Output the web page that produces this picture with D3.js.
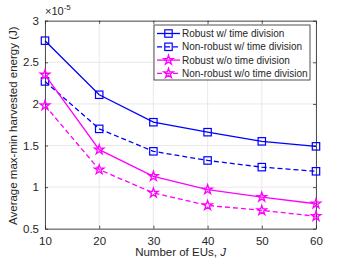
<!DOCTYPE html>
<html>
<head>
<meta charset="utf-8">
<script src="https://cdn.jsdelivr.net/npm/d3@7"></script>
<style>
  body { margin: 0; background: #fff; }
  text { font-family: "Liberation Sans", Arial, sans-serif; }
</style>
</head>
<body>
<script>
// data (values in units of 1e-5 J)
const numEUs = [10, 20, 30, 40, 50, 60];
const robustTD = [2.76, 2.11, 1.78, 1.66, 1.55, 1.49];
const nonRobustTD = [2.27, 1.70, 1.43, 1.32, 1.24, 1.19];
const robustNoTD = [2.35, 1.45, 1.13, 0.97, 0.88, 0.80];
const nonRobustNoTD = [1.98, 1.21, 0.93, 0.78, 0.72, 0.65];
const xTicks = [10, 20, 30, 40, 50, 60];
const yTicks = [0.5, 1, 1.5, 2, 2.5, 3];
const seriesNames = [
  "Robust w/ time division",
  "Non-robust w/ time division",
  "Robust w/o time division",
  "Non-robust w/o time division"
];

const W = 348, H = 263;
const plotL = 45, plotR = 316, plotT = 20.7, plotB = 228.7;
const axisColor = "#262626";

const series = [
  { name: seriesNames[0], values: robustTD, color: "#0000ff", dash: null, marker: "square" },
  { name: seriesNames[1], values: nonRobustTD, color: "#0000ff", dash: "5,3", marker: "square" },
  { name: seriesNames[2], values: robustNoTD, color: "#ff00ff", dash: null, marker: "star" },
  { name: seriesNames[3], values: nonRobustNoTD, color: "#ff00ff", dash: "5,3", marker: "star" }
];

const svg = d3.select("body").append("svg")
  .attr("width", W).attr("height", H);

const x = d3.scaleLinear().domain([10, 60]).range([plotL, plotR]);
const y = d3.scaleLinear().domain([0.5, 3]).range([plotB, plotT]);

// grid
svg.append("g").selectAll("line").data(xTicks).join("line")
  .attr("x1", d => x(d)).attr("x2", d => x(d))
  .attr("y1", plotT).attr("y2", plotB)
  .attr("stroke", "#e3e3e3").attr("stroke-width", 0.8);
svg.append("g").selectAll("line").data(yTicks).join("line")
  .attr("x1", plotL).attr("x2", plotR)
  .attr("y1", d => y(d)).attr("y2", d => y(d))
  .attr("stroke", "#e3e3e3").attr("stroke-width", 0.8);

// axes
const xAxis = svg.append("g").attr("transform", `translate(0,${plotB})`)
  .call(d3.axisBottom(x).tickValues(xTicks).tickSizeInner(-3).tickSizeOuter(0).tickPadding(8));
const yAxis = svg.append("g").attr("transform", `translate(${plotL},0)`)
  .call(d3.axisLeft(y).tickValues(yTicks).tickFormat(d3.format("")).tickSizeInner(-3).tickSizeOuter(0).tickPadding(6));
const xTop = svg.append("g").attr("transform", `translate(0,${plotT})`)
  .call(d3.axisTop(x).tickValues(xTicks).tickSizeInner(-3).tickSizeOuter(0).tickFormat(""));
const yRight = svg.append("g").attr("transform", `translate(${plotR},0)`)
  .call(d3.axisRight(y).tickValues(yTicks).tickSizeInner(-3).tickSizeOuter(0).tickFormat(""));

[xAxis, yAxis, xTop, yRight].forEach(g => {
  g.selectAll("path").attr("stroke", axisColor).attr("stroke-width", 0.8);
  g.selectAll("line").attr("stroke", axisColor).attr("stroke-width", 0.8);
  g.selectAll("text").attr("fill", axisColor).attr("font-size", 11.5)
    .style("font-family", "Liberation Sans, Arial, sans-serif");
});

// exponent label
const expo = svg.append("text").attr("x", plotL).attr("y", 15)
  .attr("fill", axisColor).attr("font-size", 11);
expo.append("tspan").text("\u00d710");
expo.append("tspan").attr("dy", -5).attr("font-size", 8).text("-5");

// axis titles
const xl = svg.append("text").attr("x", (plotL + plotR) / 2).attr("y", 256)
  .attr("text-anchor", "middle").attr("fill", axisColor).attr("font-size", 11.5);
xl.append("tspan").text("Number of EUs, ");
xl.append("tspan").attr("font-style", "italic").text("J");

svg.append("text")
  .attr("transform", `translate(17,${(plotT + plotB) / 2 + 1}) rotate(-90)`)
  .attr("text-anchor", "middle").attr("fill", axisColor).attr("font-size", 11.5)
  .text("Average max-min harvested energy (J)");

// marker drawing
const star = d3.symbol().type(d3.symbolStar).size(28);
function drawMarker(g, type, color) {
  if (type === "square") {
    g.append("rect").attr("x", -3.7).attr("y", -3.7).attr("width", 7.4).attr("height", 7.4)
      .attr("fill", "none").attr("stroke", color).attr("stroke-width", 1.2);
  } else {
    g.append("path").attr("d", star()).attr("fill", "none")
      .attr("stroke", color).attr("stroke-width", 1.3);
  }
}

const line = d3.line().x((d, i) => x(numEUs[i])).y(d => y(d));

series.forEach(s => {
  svg.append("path").datum(s.values).attr("d", line)
    .attr("fill", "none").attr("stroke", s.color).attr("stroke-width", 1.3)
    .attr("stroke-dasharray", s.dash);
  s.values.forEach((v, i) => {
    const g = svg.append("g").attr("transform", `translate(${x(numEUs[i])},${y(v)})`);
    drawMarker(g, s.marker, s.color);
  });
});

// legend
const lg = svg.append("g").attr("transform", "translate(154,25)");
lg.append("rect").attr("width", 156).attr("height", 55)
  .attr("fill", "#fff").attr("stroke", axisColor).attr("stroke-width", 0.8);
series.forEach((s, i) => {
  const ry = 8.5 + i * 13.3;
  lg.append("line").attr("x1", 3).attr("x2", 26).attr("y1", ry).attr("y2", ry)
    .attr("stroke", s.color).attr("stroke-width", 1.3).attr("stroke-dasharray", s.dash);
  const m = lg.append("g").attr("transform", `translate(14.5,${ry})`);
  drawMarker(m, s.marker, s.color);
  lg.append("text").attr("x", 28).attr("y", ry + 3.6)
    .attr("fill", axisColor).attr("font-size", 10).text(s.name);
});
</script>
</body>
</html>
